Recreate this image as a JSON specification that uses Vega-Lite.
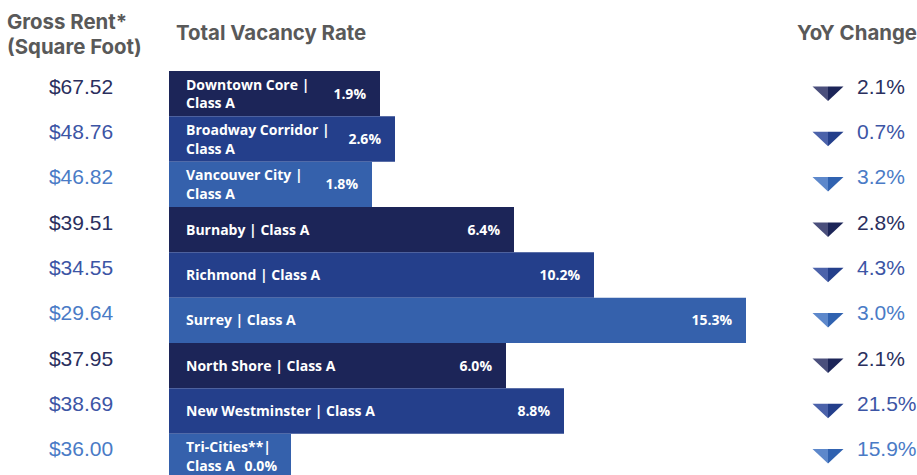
{
  "$schema": "https://vega.github.io/schema/vega-lite/v6.json",
  "padding": {"left": 0, "top": 12, "right": 0, "bottom": 0},
  "background": "white",
  "config": {
    "view": {"stroke": null},
    "title": {"font": "Inter", "fontSize": 20.4, "fontWeight": 700, "color": "#595959", "baseline": "bottom", "lineHeight": 25}
  },
  "data": {
    "values": [
      {"region": "Downtown Core | Class A", "label": "Downtown Core |\nClass A", "rent": 67.52, "vac": 0.019, "yoy": 0.021},
      {"region": "Broadway Corridor | Class A", "label": "Broadway Corridor |\nClass A", "rent": 48.76, "vac": 0.026, "yoy": 0.007},
      {"region": "Vancouver City | Class A", "label": "Vancouver City |\nClass A", "rent": 46.82, "vac": 0.018, "yoy": 0.032},
      {"region": "Burnaby | Class A", "label": "Burnaby | Class A", "rent": 39.51, "vac": 0.064, "yoy": 0.028},
      {"region": "Richmond | Class A", "label": "Richmond | Class A", "rent": 34.55, "vac": 0.102, "yoy": 0.043},
      {"region": "Surrey | Class A", "label": "Surrey | Class A", "rent": 29.64, "vac": 0.153, "yoy": 0.030},
      {"region": "North Shore | Class A", "label": "North Shore | Class A", "rent": 37.95, "vac": 0.060, "yoy": 0.021},
      {"region": "New Westminster | Class A", "label": "New Westminster | Class A", "rent": 38.69, "vac": 0.088, "yoy": 0.215},
      {"region": "Tri-Cities** | Class A", "label": "Tri-Cities**|\nClass A", "rent": 36.00, "vac": 0.000, "yoy": 0.159}
    ]
  },
  "spacing": 7,
  "resolve": {"scale": {"color": "independent"}},
  "hconcat": [
    {
      "width": 162,
      "height": 408,
      "title": {"text": ["Gross Rent*", "(Square Foot)"], "anchor": "start", "dx": 7, "offset": 13},
      "mark": {"type": "text", "font": "Liberation Sans", "fontSize": 21, "baseline": "alphabetic", "align": "center"},
      "encoding": {
        "y": {"field": "region", "type": "nominal", "sort": null, "axis": null, "scale": {"paddingInner": 0, "paddingOuter": 0}},
        "text": {"field": "rent", "type": "quantitative", "format": "$.2f"},
        "color": {
          "field": "region", "type": "nominal", "legend": null,
          "scale": {
            "domain": ["Downtown Core | Class A", "Broadway Corridor | Class A", "Vancouver City | Class A", "Burnaby | Class A", "Richmond | Class A", "Surrey | Class A", "North Shore | Class A", "New Westminster | Class A", "Tri-Cities** | Class A"],
            "range": ["#2a2f5e", "#3c55a5", "#4a7bc6", "#2a2f5e", "#3c55a5", "#4a7bc6", "#2a2f5e", "#3c55a5", "#4a7bc6"]
          }
        }
      }
    },
    {
      "width": 583,
      "height": 408,
      "title": {"text": "Total Vacancy Rate", "anchor": "start", "dx": 7, "offset": 27},
      "encoding": {
        "y": {"field": "region", "type": "nominal", "sort": null, "axis": null, "scale": {"paddingInner": 0, "paddingOuter": 0}}
      },
      "layer": [
        {
          "mark": {"type": "bar"},
          "encoding": {
            "x": {
              "field": "vac", "type": "quantitative", "axis": null, "stack": null,
              "scale": {
                "nice": false, "zero": false,
                "domain": [0, 0.018, 0.019, 0.026, 0.06, 0.064, 0.088, 0.102, 0.153],
                "range": [122, 203, 211, 226, 337, 345, 395, 425, 577]
              }
            },
            "x2": {"value": 0},
            "color": {
              "field": "region", "type": "nominal", "legend": null,
              "scale": {
                "domain": ["Downtown Core | Class A", "Broadway Corridor | Class A", "Vancouver City | Class A", "Burnaby | Class A", "Richmond | Class A", "Surrey | Class A", "North Shore | Class A", "New Westminster | Class A", "Tri-Cities** | Class A"],
                "range": ["#1c2558", "#243f8b", "#3561ac", "#1c2558", "#243f8b", "#3561ac", "#1c2558", "#243f8b", "#3561ac"]
              }
            }
          }
        },
        {
          "transform": [{"filter": "indexof(datum.label, '\\n') < 0"}],
          "mark": {"type": "text", "font": "Open Sans", "fontWeight": 700, "fontSize": 14, "color": "white", "align": "left", "baseline": "middle", "dx": 17, "dy": 1},
          "encoding": {
            "x": {"value": 0},
            "text": {"field": "label", "type": "nominal"}
          }
        },
        {
          "transform": [{"filter": "indexof(datum.label, '\\n') >= 0"}],
          "mark": {"type": "text", "font": "Open Sans", "fontWeight": 700, "fontSize": 14, "color": "white", "align": "left", "baseline": "middle", "dx": 17, "dy": -8, "lineBreak": "\n", "lineHeight": 18.5},
          "encoding": {
            "x": {"value": 0},
            "text": {"field": "label", "type": "nominal"}
          }
        },
        {
          "transform": [{"filter": "datum.vac > 0"}],
          "mark": {"type": "text", "font": "Open Sans", "fontWeight": 700, "fontSize": 14, "color": "white", "align": "right", "baseline": "middle", "dx": -14, "dy": 1},
          "encoding": {
            "x": {"field": "vac", "type": "quantitative", "stack": null},
            "text": {"field": "vac", "type": "quantitative", "format": ".1%"}
          }
        },
        {
          "transform": [{"filter": "datum.vac <= 0"}],
          "mark": {"type": "text", "font": "Open Sans", "fontWeight": 700, "fontSize": 14, "color": "white", "align": "right", "baseline": "middle", "dx": -14, "dy": 10.5},
          "encoding": {
            "x": {"field": "vac", "type": "quantitative", "stack": null},
            "text": {"field": "vac", "type": "quantitative", "format": ".1%"}
          }
        }
      ]
    },
    {
      "width": 138,
      "height": 408,
      "title": {"text": "YoY Change", "anchor": "start", "dx": 38, "offset": 27},
      "resolve": {"scale": {"color": "independent"}},
      "encoding": {
        "y": {"field": "region", "type": "nominal", "sort": null, "axis": null, "scale": {"paddingInner": 0, "paddingOuter": 0}}
      },
      "layer": [
        {
          "mark": {"type": "point", "filled": true, "opacity": 1, "size": 961, "shape": "M-1,-0.47L0,-0.47L0,0.47Z", "strokeWidth": 0},
          "encoding": {
            "color": {
              "field": "region", "type": "nominal", "legend": null,
              "scale": {
                "domain": ["Downtown Core | Class A", "Broadway Corridor | Class A", "Vancouver City | Class A", "Burnaby | Class A", "Richmond | Class A", "Surrey | Class A", "North Shore | Class A", "New Westminster | Class A", "Tri-Cities** | Class A"],
                "range": ["#4a4f7c", "#4b62aa", "#5d88cb", "#4a4f7c", "#4b62aa", "#5d88cb", "#4a4f7c", "#4b62aa", "#5d88cb"]
              }
            }
          }
        },
        {
          "mark": {"type": "point", "filled": true, "opacity": 1, "size": 961, "shape": "M0,-0.47L1,-0.47L0,0.47Z", "strokeWidth": 0},
          "encoding": {
            "color": {
              "field": "region", "type": "nominal", "legend": null,
              "scale": {
                "domain": ["Downtown Core | Class A", "Broadway Corridor | Class A", "Vancouver City | Class A", "Burnaby | Class A", "Richmond | Class A", "Surrey | Class A", "North Shore | Class A", "New Westminster | Class A", "Tri-Cities** | Class A"],
                "range": ["#1c2558", "#243f8b", "#3062b0", "#1c2558", "#243f8b", "#3062b0", "#1c2558", "#243f8b", "#3062b0"]
              }
            }
          }
        },
        {
          "mark": {"type": "text", "font": "Liberation Sans", "fontSize": 21, "baseline": "alphabetic", "align": "left", "dx": 29},
          "encoding": {
            "text": {"field": "yoy", "type": "quantitative", "format": ".1%"},
            "color": {
              "field": "region", "type": "nominal", "legend": null,
              "scale": {
                "domain": ["Downtown Core | Class A", "Broadway Corridor | Class A", "Vancouver City | Class A", "Burnaby | Class A", "Richmond | Class A", "Surrey | Class A", "North Shore | Class A", "New Westminster | Class A", "Tri-Cities** | Class A"],
                "range": ["#2a2f5e", "#3c55a5", "#4a7bc6", "#2a2f5e", "#3c55a5", "#4a7bc6", "#2a2f5e", "#3c55a5", "#4a7bc6"]
              }
            }
          }
        }
      ]
    }
  ]
}
